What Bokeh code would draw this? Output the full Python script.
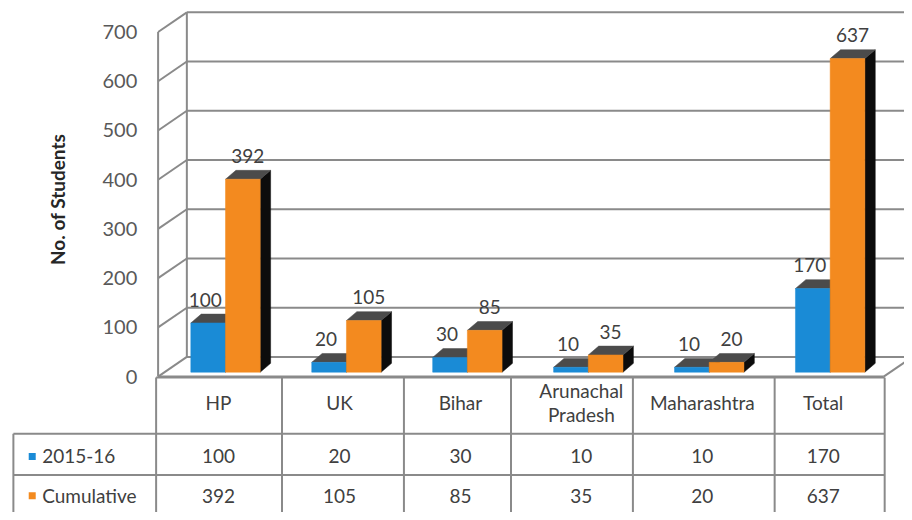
import math
from bokeh.plotting import figure
from bokeh.models import Range1d
from bokeh.core.properties import value
from bokeh.embed import file_html
from bokeh.resources import INLINE

# ---------------- data ----------------
categories = ["HP", "UK", "Bihar", "Arunachal Pradesh", "Maharashtra", "Total"]
header_labels = ["HP", "UK", "Bihar", "Arunachal\nPradesh", "Maharashtra", "Total"]
series_names = ["2015-16", "Cumulative"]
values_2015 = [100, 20, 30, 10, 10, 170]
values_cum = [392, 105, 85, 35, 20, 637]
y_ticks = [0, 100, 200, 300, 400, 500, 600, 700]
y_title = "No. of Students"

# ---------------- layout (pixel based helpers) ----------------
W, H = 904, 512
REF_W, REF_H = 912, 520
ORG_X, ORG_Y = 159.0, 382.0   # reference px of category 0 left edge / value 0 on the front plane
CW = 122.0                    # px per category
SY = 0.5                      # px per student


def X(px):      # reference x pixel -> data x
    return (px - ORG_X) / CW


def Y(py):      # reference y pixel -> data y
    return (ORG_Y - py) / SY


def DXp(d):     # px width -> data width
    return d / CW


def DYp(d):     # px height (upwards) -> data height
    return d / SY


n = len(categories)
WDX, WDY = DXp(29), DYp(20)        # wall depth
BOFF_X, BOFF_Y = DXp(7), DYp(4.5)  # bar position inside the depth
BW = DXp(35)                       # bar width
BDX, BDY = DXp(10.5), DYp(9)       # bar depth

BLUE = "#1a8bd6"
ORANGE = "#f38a1f"
TOP = "#4b4b4b"
SIDE = "#0c0c0c"
GRID = "#8a8a8a"
TXT = "#404040"
FONT = value("Lato")

p = figure(width=W, height=H, output_backend="svg", toolbar_location=None,
           x_range=Range1d(X(0), X(REF_W)), y_range=Range1d(Y(REF_H), Y(0)),
           x_axis_location=None, y_axis_location=None, min_border=0,
           background_fill_color="white", border_fill_color="white")
p.grid.visible = False
p.outline_line_color = None

# ---------------- walls / gridlines ----------------
xend = X(REF_W) + 0.5
xs, ys = [], []
for t in y_ticks:
    xs.append([0, WDX]); ys.append([t, t + WDY])            # left wall diagonal
    xs.append([WDX, xend]); ys.append([t + WDY, t + WDY])   # back wall line
xs.append([0, 0]); ys.append([y_ticks[0], y_ticks[-1]])
xs.append([WDX, WDX]); ys.append([y_ticks[0] + WDY, y_ticks[-1] + WDY])
xs.append([0, n]); ys.append([0, 0])
xs.append([n, n + WDX]); ys.append([0, WDY])
p.multi_line(xs, ys, line_color=GRID, line_width=2)

# ---------------- 3D bars ----------------
def bar_faces(vals, side):
    fx, fy, tx, ty, sx, sy = [], [], [], [], [], []
    for i, v in enumerate(vals):
        c = i + 0.5 + BOFF_X
        x0, x1 = (c - BW, c) if side == 0 else (c, c + BW)
        b, t = BOFF_Y, BOFF_Y + v
        fx.append([x0, x1, x1, x0]); fy.append([b, b, t, t])
        tx.append([x0, x1, x1 + BDX, x0 + BDX]); ty.append([t, t, t + BDY, t + BDY])
        sx.append([x1, x1 + BDX, x1 + BDX, x1]); sy.append([b, b + BDY, t + BDY, t])
    return fx, fy, tx, ty, sx, sy


for vals, side, col in ((values_2015, 0, BLUE), (values_cum, 1, ORANGE)):
    fx, fy, tx, ty, sx, sy = bar_faces(vals, side)
    p.patches(sx, sy, fill_color=SIDE, line_color=SIDE, line_width=0.5)
    p.patches(tx, ty, fill_color=TOP, line_color=TOP, line_width=0.5)
    p.patches(fx, fy, fill_color=col, line_color=col, line_width=0.5)

# data labels
lab_x, lab_y, lab_t = [], [], []
for i, v in enumerate(values_2015):
    lab_x.append(i + 0.5 + BOFF_X - BW / 2 - DXp(3)); lab_y.append(BOFF_Y + v + DYp(23.5)); lab_t.append(str(v))
for i, v in enumerate(values_cum):
    lab_x.append(i + 0.5 + BOFF_X + BW / 2 + DXp(5)); lab_y.append(BOFF_Y + v + DYp(23.5)); lab_t.append(str(v))
p.text(lab_x, lab_y, text=lab_t, text_font=FONT, text_font_size="19px", text_color=TXT,
       text_align="center", text_baseline="middle")

# y tick labels
p.text([X(138)] * len(y_ticks), y_ticks, text=[str(t) for t in y_ticks], text_font=FONT,
       text_font_size="20px", text_color="#595959", text_align="right", text_baseline="middle")

# axis title
p.text([X(58)], [Y(202)], text=[y_title], angle=math.pi / 2, text_font=FONT,
       text_font_size="19px", text_font_style="bold", text_color="#262626",
       text_align="center", text_baseline="middle")

# ---------------- data table ----------------
TBL_TOP, ROW1, ROW2, TBL_BOT = 383, 440, 482, 526
LEFT_EDGE = 13
col_edges_px = [157, 284, 407, 515, 638, 781, 892]
txs, tys = [], []
txs.append([X(col_edges_px[0]), X(col_edges_px[-1])]); tys.append([Y(TBL_TOP), Y(TBL_TOP)])
for r in (ROW1, ROW2, TBL_BOT):
    txs.append([X(LEFT_EDGE), X(col_edges_px[-1])]); tys.append([Y(r), Y(r)])
txs.append([X(LEFT_EDGE), X(LEFT_EDGE)]); tys.append([Y(ROW1), Y(TBL_BOT)])
for e in col_edges_px:
    txs.append([X(e), X(e)]); tys.append([Y(TBL_TOP), Y(TBL_BOT)])
p.multi_line(txs, tys, line_color=GRID, line_width=2)

cx = [i + 0.5 for i in range(n)]
p.text(cx, [Y(408)] * n, text=header_labels, text_font=FONT, text_font_size="19px",
       text_color=TXT, text_align="center", text_baseline="middle", text_line_height=1.05)
p.text(cx, [Y(463)] * n, text=[str(v) for v in values_2015], text_font=FONT, text_font_size="19px",
       text_color=TXT, text_align="center", text_baseline="middle")
p.text(cx, [Y(503)] * n, text=[str(v) for v in values_cum], text_font=FONT, text_font_size="19px",
       text_color=TXT, text_align="center", text_baseline="middle")

# row headers with legend keys
p.scatter([X(32), X(32)], [Y(463), Y(503)], marker="square", size=7,
          fill_color=[BLUE, ORANGE], line_color=None)
p.text([X(42), X(42)], [Y(463), Y(503)], text=series_names, text_font=FONT, text_font_size="19px",
       text_color=TXT, text_align="left", text_baseline="middle")

open("out.html", "w").write(file_html(p, INLINE))
